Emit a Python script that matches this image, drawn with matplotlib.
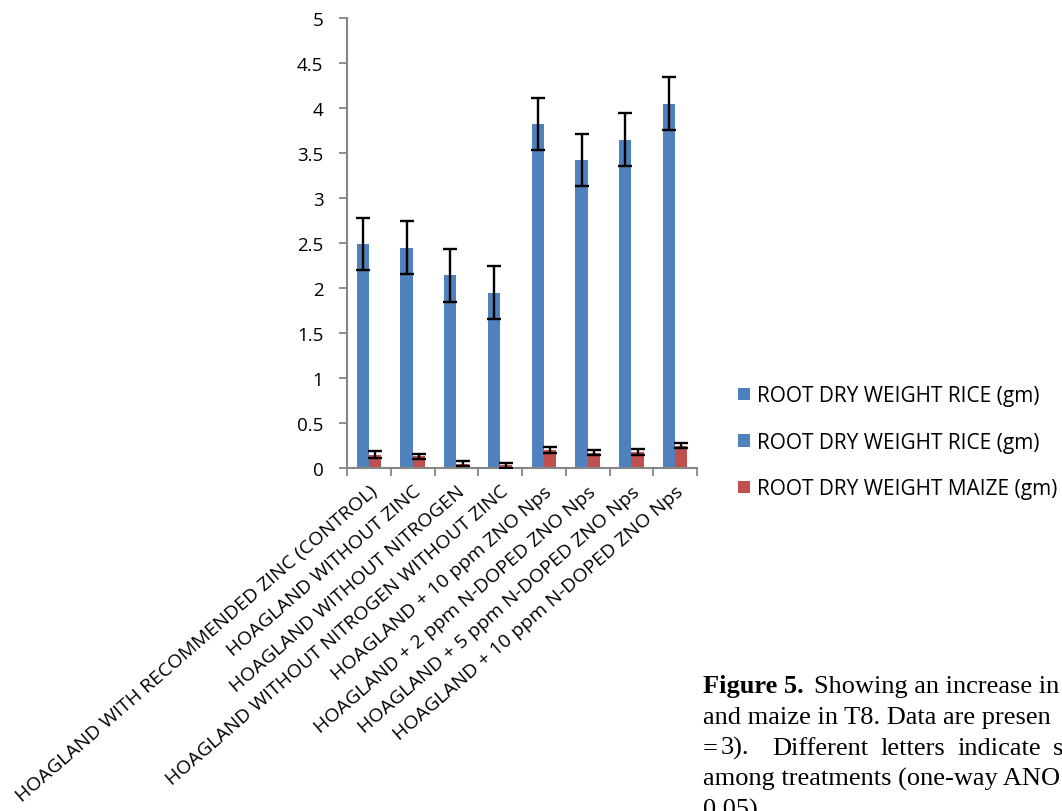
import matplotlib
matplotlib.use("Agg")
import matplotlib.pyplot as plt
import numpy as np
from matplotlib.patches import Patch

categories = [
    "HOAGLAND WITH RECOMMENDED ZINC (CONTROL)",
    "HOAGLAND WITHOUT ZINC",
    "HOAGLAND WITHOUT NITROGEN",
    "HOAGLAND WITHOUT NITROGEN WITHOUT ZINC",
    "HOAGLAND + 10 ppm ZNO Nps",
    "HOAGLAND + 2 ppm N-DOPED ZNO Nps",
    "HOAGLAND + 5 ppm N-DOPED ZNO Nps",
    "HOAGLAND + 10 ppm N-DOPED ZNO Nps",
]
rice = [2.49, 2.45, 2.14, 1.95, 3.82, 3.42, 3.65, 4.05]
rice_err = [0.29, 0.29, 0.29, 0.29, 0.29, 0.29, 0.29, 0.29]
maize = [0.15, 0.13, 0.05, 0.03, 0.20, 0.17, 0.18, 0.25]
maize_err = [0.04, 0.03, 0.03, 0.025, 0.03, 0.03, 0.03, 0.03]
yticks = [0, 0.5, 1, 1.5, 2, 2.5, 3, 3.5, 4, 4.5, 5]
ytick_labels = ["0", "0.5", "1", "1.5", "2", "2.5", "3", "3.5", "4", "4.5", "5"]
legend_labels = ["ROOT DRY WEIGHT RICE (gm)", "ROOT DRY WEIGHT RICE (gm)", "ROOT DRY WEIGHT MAIZE (gm)"]

BLUE = "#4F81BD"
RED = "#C0504D"
GRAY = "#868686"

plt.rcParams['font.family'] = ['Open Sans', 'DejaVu Sans']

W, H = 1062, 812
fig = plt.figure(figsize=(W / 100, H / 100), dpi=100)
ax = fig.add_axes([347 / W, (H - 469) / H, (697 - 347) / W, (469 - 19) / H])

x = np.arange(len(categories))
bw = 0.28
ax.bar(x - bw / 2, rice, bw, color=BLUE, zorder=2)
ax.errorbar(x - bw / 2, rice, yerr=rice_err, fmt="none", ecolor="black",
            elinewidth=1.7, capsize=5, capthick=1.7, zorder=3)
ax.bar(x + bw / 2, maize, bw, color=RED, zorder=2)
ax.errorbar(x + bw / 2, maize, yerr=maize_err, fmt="none", ecolor="black",
            elinewidth=1.7, capsize=5, capthick=1.7, zorder=3)

ax.set_xlim(-0.5, len(categories) - 0.5)
ax.set_ylim(0, 5)
ax.set_yticks(yticks)
ax.set_yticklabels(ytick_labels)
for s in ["top", "right"]:
    ax.spines[s].set_visible(False)
for s in ["left", "bottom"]:
    ax.spines[s].set_color(GRAY)
    ax.spines[s].set_linewidth(1.5)
ax.tick_params(axis="y", color=GRAY, length=6, width=1.3, pad=11, labelsize=13.5)

# category ticks at boundaries (Excel style)
ax.set_xticks(np.arange(len(categories) + 1) - 0.5, minor=True)
ax.tick_params(axis="x", which="minor", color=GRAY, length=6, width=1.3, direction="out")
ax.set_xticks(x)
ax.set_xticklabels(categories, rotation=41, ha="right", rotation_mode="anchor", fontsize=14)
ax.tick_params(axis="x", which="major", length=0, pad=10)

# legend (three entries as in original)
handles = [Patch(facecolor=BLUE), Patch(facecolor=BLUE), Patch(facecolor=RED)]
fig.legend(handles, legend_labels, loc="upper left", bbox_to_anchor=(728 / W, 1 - 376 / H),
           frameon=False, fontsize=15, handlelength=0.55, handleheight=0.55,
           handletextpad=0.35, labelspacing=1.22, borderpad=0)

# caption (cut by figure edge as in the reference)
cap_x = 703 / W
fs = 19
fig.text(cap_x, 1 - 693 / H, "Figure 5.", fontsize=fs, fontweight="bold",
         family="Liberation Serif", va="baseline", ha="left")
fig.text(814 / W, 1 - 693 / H, "Showing an increase in", fontsize=fs,
         family="Liberation Serif", va="baseline", ha="left")
fig.text(cap_x, 1 - 724 / H, "and maize in T8. Data are presen", fontsize=fs,
         family="Liberation Serif", va="baseline", ha="left")
line3 = [("=", 703), ("3).", 721), ("Different", 772), ("letters", 880), ("indicate", 957), ("s", 1053)]
for word, px in line3:
    fig.text(px / W, 1 - 755 / H, word, fontsize=fs,
             family="Liberation Serif", va="baseline", ha="left")
fig.text(cap_x, 1 - 786 / H, "among treatments (one-way ANO", fontsize=fs,
         family="Liberation Serif", va="baseline", ha="left")
fig.text(cap_x, 1 - 817 / H, "0.05).", fontsize=fs,
         family="Liberation Serif", va="baseline", ha="left")

fig.savefig("out.png", dpi=100)
